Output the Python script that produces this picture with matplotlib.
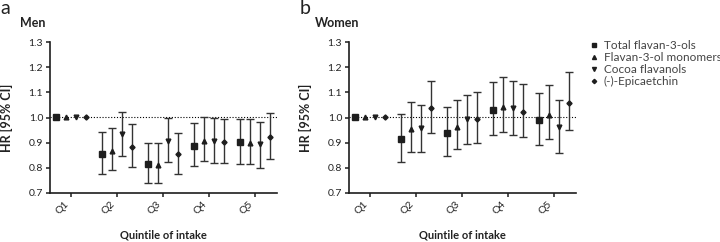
import numpy as np
import matplotlib.pyplot as plt

plt.rcParams['font.family'] = ['Lato', 'DejaVu Sans']

quintiles = ['Q1', 'Q2', 'Q3', 'Q4', 'Q5']
series = ['Total flavan-3-ols', 'Flavan-3-ol monomers', 'Cocoa flavanols', '(-)-Epicaetchin']

# HR and 95% CI, one row per series, one column per quintile
men_hr = [[1.0, 0.855, 0.814, 0.888, 0.901],
          [1.0, 0.868, 0.810, 0.908, 0.897],
          [1.0, 0.934, 0.908, 0.908, 0.893],
          [1.0, 0.884, 0.855, 0.902, 0.921]]
men_lo = [[1.0, 0.775, 0.739, 0.806, 0.816],
          [1.0, 0.791, 0.739, 0.828, 0.816],
          [1.0, 0.848, 0.823, 0.819, 0.798],
          [1.0, 0.805, 0.777, 0.819, 0.834]]
men_hi = [[1.0, 0.944, 0.897, 0.979, 0.995],
          [1.0, 0.960, 0.897, 1.003, 0.993],
          [1.0, 1.021, 0.997, 0.998, 0.982],
          [1.0, 0.973, 0.940, 0.993, 1.017]]

women_hr = [[1.0, 0.913, 0.940, 1.031, 0.990],
            [1.0, 0.953, 0.963, 1.042, 1.011],
            [1.0, 0.957, 0.993, 1.037, 0.962],
            [1.0, 1.038, 0.995, 1.022, 1.059]]
women_lo = [[1.0, 0.823, 0.848, 0.932, 0.892],
            [1.0, 0.863, 0.874, 0.944, 0.913],
            [1.0, 0.864, 0.895, 0.932, 0.858],
            [1.0, 0.940, 0.899, 0.921, 0.951]]
women_hi = [[1.0, 1.013, 1.040, 1.141, 1.099],
            [1.0, 1.060, 1.070, 1.160, 1.128],
            [1.0, 1.048, 1.091, 1.144, 1.070],
            [1.0, 1.145, 1.100, 1.132, 1.180]]

markers = ['s', '^', 'v', 'D']
msizes = [4.2, 3.4, 3.4, 2.6]
offsets = [-0.32, -0.107, 0.107, 0.32]
dark = '#1e1e1e'


def draw(ax, hr, lo, hi):
    x = np.arange(1, len(quintiles) + 1)
    ax.axhline(1.0, color='k', ls=(0, (1, 1.6)), lw=0.8, zorder=1)
    for i in range(len(series)):
        xs = x + offsets[i]
        h = np.array(hr[i])
        l = np.array(lo[i])
        u = np.array(hi[i])
        m = u > l
        ax.errorbar(xs[m], h[m], yerr=[h[m] - l[m], u[m] - h[m]], fmt='none',
                    ecolor='#333333', elinewidth=1.0, capsize=2.6, capthick=1.0, zorder=2)
        ax.plot(xs, h, ls='none', marker=markers[i], ms=msizes[i], color=dark,
                label=series[i], zorder=3)
    ax.set_xlim(0.54, 5.48)
    ax.set_ylim(0.7, 1.3)
    ax.set_xticks(x)
    ax.set_xticklabels(quintiles, rotation=45, ha='right', fontsize=7.5)
    ax.set_yticks(np.arange(0.7, 1.31, 0.1))
    ax.set_yticklabels(['%.1f' % v for v in np.arange(0.7, 1.31, 0.1)], fontsize=7.5)
    for s in ['top', 'right']:
        ax.spines[s].set_visible(False)
    for s in ['left', 'bottom']:
        ax.spines[s].set_linewidth(1.2)
        ax.spines[s].set_color(dark)
    ax.tick_params(length=3, width=1.1, color=dark, labelcolor='#222222', pad=2)
    ax.set_ylabel('HR [95% CI]', fontsize=9, fontweight='bold', color='#222222')
    ax.yaxis.set_label_coords(-0.165, 0.5)
    ax.set_xlabel('Quintile of intake', fontsize=8, fontweight='bold', color='#222222')
    ax.xaxis.set_label_coords(0.5, -0.24)


def main():
    fig = plt.figure(figsize=(7.2, 2.42), dpi=100)
    ax_m = fig.add_axes([50 / 720, 49 / 242, 227 / 720, 151 / 242])
    ax_w = fig.add_axes([349 / 720, 49 / 242, 227 / 720, 151 / 242])

    draw(ax_m, men_hr, men_lo, men_hi)
    draw(ax_w, women_hr, women_lo, women_hi)

    fig.text(0 / 720, 1 - 9 / 242, 'a', fontsize=14, va='center', color='#222222')
    fig.text(300 / 720, 1 - 9 / 242, 'b', fontsize=14, va='center', color='#222222')
    fig.text(20 / 720, 1 - 23 / 242, 'Men', fontsize=9, fontweight='bold', va='center', color='#222222')
    fig.text(315 / 720, 1 - 23 / 242, 'Women', fontsize=9, fontweight='bold', va='center', color='#222222')

    handles, labels = ax_w.get_legend_handles_labels()
    fig.legend(handles, labels, loc='upper left', bbox_to_anchor=(589 / 720, 1 - 40 / 242),
               frameon=False, fontsize=8.5, handlelength=0.9, handletextpad=0.35,
               labelspacing=0.08, borderaxespad=0, borderpad=0, labelcolor='#444444',
               markerscale=0.85)

    fig.savefig('out.png', dpi=100)


if __name__ == "__main__":
    main()
